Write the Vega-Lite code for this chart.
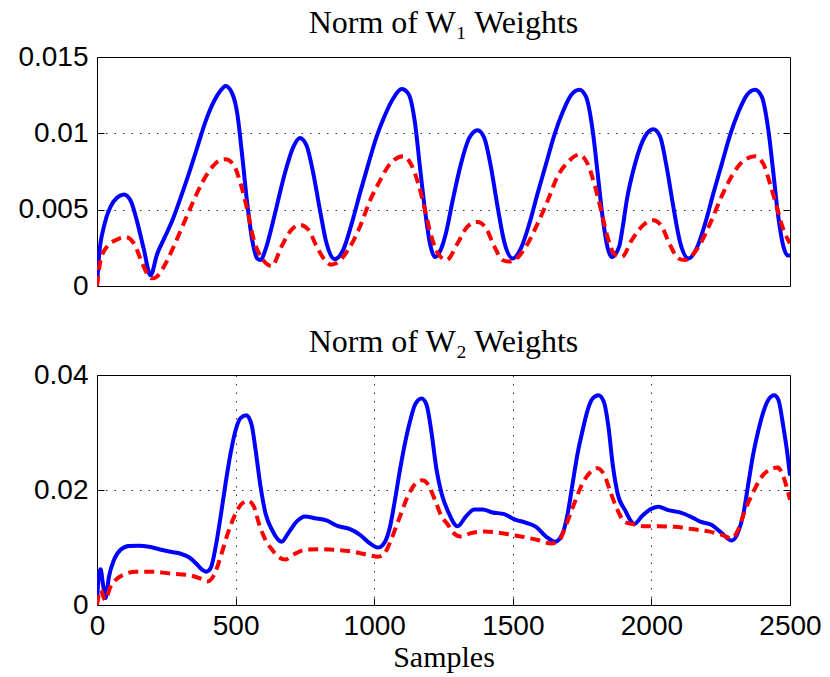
{
  "$schema": "https://vega.github.io/schema/vega-lite/v6.json",
  "padding": {"left": 17, "top": 6, "right": 0, "bottom": 0},
  "background": "white",
  "config": {
    "view": {"stroke": "black", "strokeWidth": 1},
    "axis": {
      "labelFont": "Liberation Sans", "labelFontSize": 28, "labelColor": "black", "labelFlush": false,
      "tickColor": "black", "tickSize": -7, "tickWidth": 1, "domain": false,
      "gridColor": "black", "gridDash": [1.5, 7], "gridOpacity": 0.8, "gridWidth": 1,
      "titleFont": "Liberation Serif", "titleFontSize": 30, "titleFontWeight": "normal", "titleColor": "black"
    },
    "title": {"font": "Liberation Serif", "fontSize": 32, "fontWeight": "normal", "color": "black"}
  },
  "spacing": 24,
  "datasets": {
    "w1": [
      {"s":"a","x":0,"y":0},{"s":"a","x":7,"y":0.0019},{"s":"a","x":25,"y":0.0039},{"s":"a","x":49,"y":0.0052},{"s":"a","x":73,"y":0.0058},{"s":"a","x":97,"y":0.0060},{"s":"a","x":121,"y":0.0056},{"s":"a","x":145,"y":0.0042},{"s":"a","x":169,"y":0.0024},{"s":"a","x":193,"y":0.0007},{"s":"a","x":217,"y":0.0021},{"s":"a","x":242,"y":0.0031},{"s":"a","x":272,"y":0.0043},{"s":"a","x":302,"y":0.0058},{"s":"a","x":332,"y":0.0074},{"s":"a","x":362,"y":0.0091},{"s":"a","x":392,"y":0.0108},{"s":"a","x":422,"y":0.0121},{"s":"a","x":446,"y":0.0128},{"s":"a","x":464,"y":0.0131},{"s":"a","x":488,"y":0.0126},{"s":"a","x":506,"y":0.0113},{"s":"a","x":524,"y":0.0085},{"s":"a","x":542,"y":0.0054},{"s":"a","x":560,"y":0.0030},{"s":"a","x":578,"y":0.0018},{"s":"a","x":590,"y":0.0017},{"s":"a","x":608,"y":0.0024},{"s":"a","x":632,"y":0.0040},{"s":"a","x":648,"y":0.0052},{"s":"a","x":678,"y":0.0074},{"s":"a","x":708,"y":0.0091},{"s":"a","x":732,"y":0.0097},{"s":"a","x":756,"y":0.0092},{"s":"a","x":780,"y":0.0074},{"s":"a","x":804,"y":0.0050},{"s":"a","x":828,"y":0.0028},{"s":"a","x":858,"y":0.00175},{"s":"a","x":889,"y":0.0024},{"s":"a","x":919,"y":0.0041},{"s":"a","x":949,"y":0.0061},{"s":"a","x":979,"y":0.0080},{"s":"a","x":1009,"y":0.0098},{"s":"a","x":1039,"y":0.0112},{"s":"a","x":1069,"y":0.0123},{"s":"a","x":1099,"y":0.0129},{"s":"a","x":1123,"y":0.0126},{"s":"a","x":1147,"y":0.0107},{"s":"a","x":1165,"y":0.0078},{"s":"a","x":1183,"y":0.0050},{"s":"a","x":1201,"y":0.0028},{"s":"a","x":1219,"y":0.0019},{"s":"a","x":1243,"y":0.0025},{"s":"a","x":1258,"y":0.0034},{"s":"a","x":1283,"y":0.0056},{"s":"a","x":1313,"y":0.0080},{"s":"a","x":1343,"y":0.0097},{"s":"a","x":1373,"y":0.0102},{"s":"a","x":1397,"y":0.0097},{"s":"a","x":1421,"y":0.0078},{"s":"a","x":1445,"y":0.0052},{"s":"a","x":1469,"y":0.0029},{"s":"a","x":1500,"y":0.0018},{"s":"a","x":1530,"y":0.0025},{"s":"a","x":1560,"y":0.0041},{"s":"a","x":1590,"y":0.0061},{"s":"a","x":1620,"y":0.0080},{"s":"a","x":1650,"y":0.0099},{"s":"a","x":1680,"y":0.0114},{"s":"a","x":1710,"y":0.0125},{"s":"a","x":1740,"y":0.01285},{"s":"a","x":1764,"y":0.0124},{"s":"a","x":1788,"y":0.0102},{"s":"a","x":1806,"y":0.0074},{"s":"a","x":1824,"y":0.0045},{"s":"a","x":1842,"y":0.0025},{"s":"a","x":1857,"y":0.0019},{"s":"a","x":1884,"y":0.0026},{"s":"a","x":1896,"y":0.0038},{"s":"a","x":1911,"y":0.0056},{"s":"a","x":1941,"y":0.0080},{"s":"a","x":1977,"y":0.0098},{"s":"a","x":2007,"y":0.01026},{"s":"a","x":2031,"y":0.0098},{"s":"a","x":2055,"y":0.0078},{"s":"a","x":2079,"y":0.0052},{"s":"a","x":2103,"y":0.0029},{"s":"a","x":2134,"y":0.0018},{"s":"a","x":2164,"y":0.0025},{"s":"a","x":2194,"y":0.0041},{"s":"a","x":2224,"y":0.0061},{"s":"a","x":2254,"y":0.0080},{"s":"a","x":2284,"y":0.0099},{"s":"a","x":2314,"y":0.0114},{"s":"a","x":2344,"y":0.0125},{"s":"a","x":2374,"y":0.01285},{"s":"a","x":2398,"y":0.0124},{"s":"a","x":2422,"y":0.0102},{"s":"a","x":2440,"y":0.0074},{"s":"a","x":2458,"y":0.0045},{"s":"a","x":2476,"y":0.0026},{"s":"a","x":2492,"y":0.0020},{"s":"a","x":2500,"y":0.0020},
      {"s":"b","x":0,"y":0},{"s":"b","x":13,"y":0.0017},{"s":"b","x":37,"y":0.0026},{"s":"b","x":67,"y":0.0030},{"s":"b","x":103,"y":0.0032},{"s":"b","x":133,"y":0.0028},{"s":"b","x":163,"y":0.0015},{"s":"b","x":185,"y":0.0007},{"s":"b","x":199,"y":0.0005},{"s":"b","x":215,"y":0.0006},{"s":"b","x":236,"y":0.0011},{"s":"b","x":272,"y":0.0024},{"s":"b","x":308,"y":0.0039},{"s":"b","x":344,"y":0.0054},{"s":"b","x":380,"y":0.0068},{"s":"b","x":416,"y":0.0078},{"s":"b","x":440,"y":0.0082},{"s":"b","x":464,"y":0.0083},{"s":"b","x":494,"y":0.0079},{"s":"b","x":518,"y":0.0067},{"s":"b","x":542,"y":0.0050},{"s":"b","x":566,"y":0.0030},{"s":"b","x":596,"y":0.0018},{"s":"b","x":630,"y":0.0013},{"s":"b","x":666,"y":0.0026},{"s":"b","x":702,"y":0.0037},{"s":"b","x":732,"y":0.0040},{"s":"b","x":762,"y":0.0037},{"s":"b","x":792,"y":0.0026},{"s":"b","x":822,"y":0.0017},{"s":"b","x":845,"y":0.0014},{"s":"b","x":864,"y":0.0015},{"s":"b","x":907,"y":0.0024},{"s":"b","x":949,"y":0.0039},{"s":"b","x":985,"y":0.0056},{"s":"b","x":1021,"y":0.0069},{"s":"b","x":1057,"y":0.0080},{"s":"b","x":1105,"y":0.0085},{"s":"b","x":1135,"y":0.0079},{"s":"b","x":1159,"y":0.0067},{"s":"b","x":1183,"y":0.0050},{"s":"b","x":1207,"y":0.0032},{"s":"b","x":1231,"y":0.0021},{"s":"b","x":1261,"y":0.0017},{"s":"b","x":1301,"y":0.0028},{"s":"b","x":1337,"y":0.0039},{"s":"b","x":1373,"y":0.0042},{"s":"b","x":1403,"y":0.0038},{"s":"b","x":1433,"y":0.0026},{"s":"b","x":1463,"y":0.0017},{"s":"b","x":1485,"y":0.0016},{"s":"b","x":1506,"y":0.0017},{"s":"b","x":1548,"y":0.0026},{"s":"b","x":1590,"y":0.0041},{"s":"b","x":1626,"y":0.0056},{"s":"b","x":1662,"y":0.0072},{"s":"b","x":1698,"y":0.0081},{"s":"b","x":1740,"y":0.0086},{"s":"b","x":1770,"y":0.0080},{"s":"b","x":1794,"y":0.0067},{"s":"b","x":1818,"y":0.0050},{"s":"b","x":1842,"y":0.0032},{"s":"b","x":1866,"y":0.0021},{"s":"b","x":1893,"y":0.0019},{"s":"b","x":1929,"y":0.0030},{"s":"b","x":1971,"y":0.0040},{"s":"b","x":2007,"y":0.0043},{"s":"b","x":2037,"y":0.0039},{"s":"b","x":2067,"y":0.0027},{"s":"b","x":2097,"y":0.0018},{"s":"b","x":2121,"y":0.0017},{"s":"b","x":2164,"y":0.0024},{"s":"b","x":2212,"y":0.0041},{"s":"b","x":2254,"y":0.0059},{"s":"b","x":2290,"y":0.0072},{"s":"b","x":2326,"y":0.0081},{"s":"b","x":2374,"y":0.0085},{"s":"b","x":2404,"y":0.0080},{"s":"b","x":2428,"y":0.0067},{"s":"b","x":2452,"y":0.0052},{"s":"b","x":2476,"y":0.0037},{"s":"b","x":2500,"y":0.0028}
    ],
    "w2": [
      {"s":"a","x":0,"y":0},{"s":"a","x":7,"y":0.0055},{"s":"a","x":13,"y":0.0062},{"s":"a","x":21,"y":0.0038},{"s":"a","x":31,"y":0.0012},{"s":"a","x":43,"y":0.0049},{"s":"a","x":61,"y":0.0078},{"s":"a","x":85,"y":0.0096},{"s":"a","x":115,"y":0.01026},{"s":"a","x":151,"y":0.0103},{"s":"a","x":187,"y":0.01014},{"s":"a","x":224,"y":0.0097},{"s":"a","x":260,"y":0.0093},{"s":"a","x":296,"y":0.0090},{"s":"a","x":332,"y":0.0083},{"s":"a","x":362,"y":0.0070},{"s":"a","x":380,"y":0.0061},{"s":"a","x":394,"y":0.0058},{"s":"a","x":410,"y":0.0064},{"s":"a","x":428,"y":0.0101},{"s":"a","x":446,"y":0.0154},{"s":"a","x":464,"y":0.0212},{"s":"a","x":482,"y":0.0264},{"s":"a","x":500,"y":0.0304},{"s":"a","x":518,"y":0.0325},{"s":"a","x":539,"y":0.0330},{"s":"a","x":558,"y":0.0313},{"s":"a","x":572,"y":0.0270},{"s":"a","x":590,"y":0.0206},{"s":"a","x":608,"y":0.0159},{"s":"a","x":632,"y":0.0130},{"s":"a","x":666,"y":0.0110},{"s":"a","x":690,"y":0.0125},{"s":"a","x":720,"y":0.0145},{"s":"a","x":750,"y":0.0154},{"s":"a","x":786,"y":0.0151},{"s":"a","x":828,"y":0.0147},{"s":"a","x":870,"y":0.0137},{"s":"a","x":913,"y":0.0132},{"s":"a","x":949,"y":0.0122},{"s":"a","x":985,"y":0.0107},{"s":"a","x":1015,"y":0.0100},{"s":"a","x":1039,"y":0.0110},{"s":"a","x":1057,"y":0.0136},{"s":"a","x":1075,"y":0.0183},{"s":"a","x":1093,"y":0.0235},{"s":"a","x":1111,"y":0.0281},{"s":"a","x":1129,"y":0.0319},{"s":"a","x":1147,"y":0.0348},{"s":"a","x":1171,"y":0.0359},{"s":"a","x":1189,"y":0.0348},{"s":"a","x":1207,"y":0.0299},{"s":"a","x":1225,"y":0.0235},{"s":"a","x":1243,"y":0.0194},{"s":"a","x":1267,"y":0.0162},{"s":"a","x":1301,"y":0.0137},{"s":"a","x":1331,"y":0.0154},{"s":"a","x":1361,"y":0.0166},{"s":"a","x":1391,"y":0.0166},{"s":"a","x":1427,"y":0.0161},{"s":"a","x":1469,"y":0.0158},{"s":"a","x":1506,"y":0.0149},{"s":"a","x":1548,"y":0.0143},{"s":"a","x":1584,"y":0.0136},{"s":"a","x":1620,"y":0.0119},{"s":"a","x":1653,"y":0.0110},{"s":"a","x":1680,"y":0.0125},{"s":"a","x":1698,"y":0.0159},{"s":"a","x":1716,"y":0.0212},{"s":"a","x":1734,"y":0.0264},{"s":"a","x":1752,"y":0.0304},{"s":"a","x":1770,"y":0.0339},{"s":"a","x":1788,"y":0.0359},{"s":"a","x":1809,"y":0.0365},{"s":"a","x":1828,"y":0.0354},{"s":"a","x":1845,"y":0.0310},{"s":"a","x":1860,"y":0.0246},{"s":"a","x":1878,"y":0.0194},{"s":"a","x":1905,"y":0.0165},{"s":"a","x":1939,"y":0.0141},{"s":"a","x":1965,"y":0.0154},{"s":"a","x":1995,"y":0.0166},{"s":"a","x":2025,"y":0.0171},{"s":"a","x":2061,"y":0.0165},{"s":"a","x":2103,"y":0.0161},{"s":"a","x":2140,"y":0.0154},{"s":"a","x":2176,"y":0.0145},{"s":"a","x":2218,"y":0.0139},{"s":"a","x":2254,"y":0.0125},{"s":"a","x":2290,"y":0.0112},{"s":"a","x":2314,"y":0.0128},{"s":"a","x":2332,"y":0.0159},{"s":"a","x":2350,"y":0.0212},{"s":"a","x":2368,"y":0.0264},{"s":"a","x":2386,"y":0.0304},{"s":"a","x":2404,"y":0.0336},{"s":"a","x":2422,"y":0.0357},{"s":"a","x":2443,"y":0.0365},{"s":"a","x":2458,"y":0.0357},{"s":"a","x":2476,"y":0.0310},{"s":"a","x":2492,"y":0.0258},{"s":"a","x":2500,"y":0.0225},
      {"s":"b","x":0,"y":0},{"s":"b","x":13,"y":0.0026},{"s":"b","x":29,"y":0.0009},{"s":"b","x":49,"y":0.0032},{"s":"b","x":73,"y":0.0046},{"s":"b","x":103,"y":0.0054},{"s":"b","x":139,"y":0.0058},{"s":"b","x":199,"y":0.0058},{"s":"b","x":260,"y":0.0055},{"s":"b","x":332,"y":0.0052},{"s":"b","x":374,"y":0.0046},{"s":"b","x":398,"y":0.0041},{"s":"b","x":422,"y":0.0052},{"s":"b","x":446,"y":0.0084},{"s":"b","x":470,"y":0.0122},{"s":"b","x":500,"y":0.0159},{"s":"b","x":524,"y":0.0177},{"s":"b","x":546,"y":0.0181},{"s":"b","x":566,"y":0.0171},{"s":"b","x":584,"y":0.0142},{"s":"b","x":608,"y":0.0113},{"s":"b","x":632,"y":0.0096},{"s":"b","x":654,"y":0.0084},{"s":"b","x":678,"y":0.0079},{"s":"b","x":714,"y":0.0089},{"s":"b","x":750,"y":0.0096},{"s":"b","x":798,"y":0.0097},{"s":"b","x":858,"y":0.0096},{"s":"b","x":919,"y":0.0093},{"s":"b","x":979,"y":0.0087},{"s":"b","x":1015,"y":0.0084},{"s":"b","x":1039,"y":0.0091},{"s":"b","x":1063,"y":0.0116},{"s":"b","x":1093,"y":0.0154},{"s":"b","x":1123,"y":0.0191},{"s":"b","x":1153,"y":0.0213},{"s":"b","x":1174,"y":0.0217},{"s":"b","x":1195,"y":0.0209},{"s":"b","x":1219,"y":0.0183},{"s":"b","x":1243,"y":0.0154},{"s":"b","x":1267,"y":0.0139},{"s":"b","x":1282,"y":0.0127},{"s":"b","x":1313,"y":0.0119},{"s":"b","x":1349,"y":0.0125},{"s":"b","x":1397,"y":0.0128},{"s":"b","x":1445,"y":0.0126},{"s":"b","x":1494,"y":0.0122},{"s":"b","x":1542,"y":0.0118},{"s":"b","x":1590,"y":0.0113},{"s":"b","x":1638,"y":0.0107},{"s":"b","x":1668,"y":0.0113},{"s":"b","x":1692,"y":0.0139},{"s":"b","x":1722,"y":0.0177},{"s":"b","x":1752,"y":0.0212},{"s":"b","x":1782,"y":0.0232},{"s":"b","x":1806,"y":0.0238},{"s":"b","x":1830,"y":0.0226},{"s":"b","x":1854,"y":0.0194},{"s":"b","x":1878,"y":0.0165},{"s":"b","x":1902,"y":0.0145},{"s":"b","x":1929,"y":0.0141},{"s":"b","x":1977,"y":0.0137},{"s":"b","x":2025,"y":0.0137},{"s":"b","x":2085,"y":0.0136},{"s":"b","x":2146,"y":0.0132},{"s":"b","x":2206,"y":0.0128},{"s":"b","x":2254,"y":0.0122},{"s":"b","x":2290,"y":0.0116},{"s":"b","x":2314,"y":0.0132},{"s":"b","x":2338,"y":0.0165},{"s":"b","x":2368,"y":0.0197},{"s":"b","x":2398,"y":0.0223},{"s":"b","x":2428,"y":0.0236},{"s":"b","x":2456,"y":0.0239},{"s":"b","x":2476,"y":0.0223},{"s":"b","x":2500,"y":0.0183}
    ]
  },
  "vconcat": [
    {
      "title": {"text": "Norm of W₁ Weights", "offset": 3},
      "width": 693, "height": 229,
      "data": {"name": "w1"},
      "encoding": {
        "x": {"field": "x", "type": "quantitative", "scale": {"domain": [0, 2500], "nice": false},
              "axis": {"values": [0, 500, 1000, 1500, 2000, 2500], "labels": false, "ticks": false, "grid": false, "title": null}},
        "y": {"field": "y", "type": "quantitative", "scale": {"domain": [0, 0.015], "nice": false, "zero": false}}
      },
      "resolve": {"axis": {"y": "independent"}},
      "layer": [
        {"transform": [{"filter": "datum.s == 'a'"}],
         "mark": {"type": "line", "color": "#0000ff", "strokeWidth": 4, "interpolate": "monotone", "clip": true},
         "encoding": {"y": {"field": "y", "type": "quantitative", "axis": {"values": [0, 0.005, 0.01, 0.015], "labelExpr": "datum.value + ''", "labelPadding": 16, "grid": true, "title": null}}}},
        {"transform": [{"filter": "datum.s == 'b'"}],
         "mark": {"type": "line", "color": "#ff0000", "strokeWidth": 4, "strokeDash": [10, 6], "interpolate": "monotone", "clip": true},
         "encoding": {"y": {"field": "y", "type": "quantitative", "axis": {"orient": "right", "values": [0.005, 0.01], "labels": false, "grid": false, "title": null}}}}
      ]
    },
    {
      "title": {"text": "Norm of W₂ Weights", "offset": 2},
      "width": 693, "height": 230,
      "data": {"name": "w2"},
      "encoding": {
        "x": {"field": "x", "type": "quantitative", "scale": {"domain": [0, 2500], "nice": false},
              "axis": {"values": [0, 500, 1000, 1500, 2000, 2500], "format": "d", "labelPadding": 14, "grid": true, "title": "Samples", "titlePadding": 2}},
        "y": {"field": "y", "type": "quantitative", "scale": {"domain": [0, 0.04], "nice": false, "zero": false}}
      },
      "resolve": {"axis": {"y": "independent"}},
      "layer": [
        {"transform": [{"filter": "datum.s == 'a'"}],
         "mark": {"type": "line", "color": "#0000ff", "strokeWidth": 4, "interpolate": "monotone", "clip": true},
         "encoding": {"y": {"field": "y", "type": "quantitative", "axis": {"values": [0, 0.02, 0.04], "labelExpr": "datum.value + ''", "labelPadding": 16, "grid": true, "title": null}}}},
        {"transform": [{"filter": "datum.s == 'b'"}],
         "mark": {"type": "line", "color": "#ff0000", "strokeWidth": 4, "strokeDash": [10, 6], "interpolate": "monotone", "clip": true},
         "encoding": {"y": {"field": "y", "type": "quantitative", "axis": {"orient": "right", "values": [0.02], "labels": false, "grid": false, "title": null}}}}
      ]
    }
  ]
}
